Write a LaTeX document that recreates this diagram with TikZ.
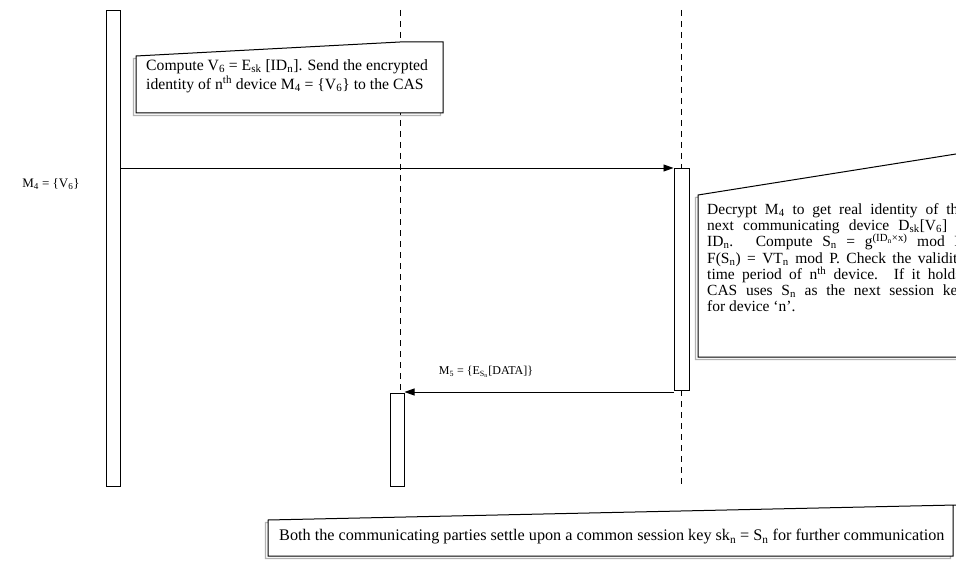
\documentclass[tikz,border=0pt]{standalone}
\usepackage{fontspec}
\setmainfont{Liberation Serif}
\usepackage{tikz}
\usetikzlibrary{arrows.meta,calc}

\tikzset{
	bar/.style={draw, line width=1pt, fill=white, minimum width=14pt, inner sep=0pt},
	lifeline/.style={line width=0.9pt, dash pattern=on 6pt off 5pt},
	msg/.style={line width=0.9pt, -{Triangle[length=10pt,width=7pt]}},
	notebox/.style={draw, line width=1pt, fill=white, preaction={draw=gray!60, line width=1.2pt, transform canvas={shift={(-2.5pt,-2.5pt)}}}},
	notetext/.style={inner sep=0pt, font=\fontsize{15.5}{16.3}\selectfont},
	msglabel/.style={inner sep=0pt, font=\fontsize{12}{14}\selectfont}
}

\begin{document}
\begin{tikzpicture}[x=1pt,y=-1pt]
	\useasboundingbox (0,0) rectangle (956,567);
	\clip (0,0) rectangle (956,567);
	% lifelines
	\draw[lifeline] (400,10) -- (400,393);
	\draw[lifeline] (681,10) -- (681,168);
	\draw[lifeline] (681,390) -- (681,486);
	\node[bar, minimum height=476pt, anchor=north] (user) at (113,10) {};
	\node[bar, minimum height=222pt, anchor=north, minimum width=15pt] (cas) at (681.5,168) {};
	\node[bar, minimum height=93pt, anchor=north] (dev) at (397,393) {};

	% first note
	\draw[notebox] (136,56) -- (400,42) -- (443,42) -- (443,113) -- (136,113) -- cycle;
	\node[notetext, anchor=north west, align=left, font=\fontsize{15.7}{19}\selectfont] (note1) at (146,59) {Compute V\textsubscript{6} = E\textsubscript{sk} [ID\textsubscript{n}]. Send the encrypted\\identity of n\textsuperscript{th} device M\textsubscript{4} = \{V\textsubscript{6}\} to the CAS};

	% M4
	\coordinate (m4) at (0,168);
	\draw[msg] (user.east |- m4) -- (cas.west |- m4);
	\node[msglabel, font=\fontsize{13}{15}\selectfont] (m4lbl) at (51,184) {M\textsubscript{4} = \{V\textsubscript{6}\}};

	% second note
	\draw[notebox] (698,195) -- (1000,147) -- (1000,357) -- (698,357) -- cycle;
	\node[notetext, anchor=north west, text width=258pt, align=justify] (note2) at (707,203) {Decrypt M\textsubscript{4} to get real identity of the\linebreak next communicating device D\textsubscript{sk}[V\textsubscript{6}] =\linebreak ID\textsubscript{n}. Compute S\textsubscript{n} = g\textsuperscript{(ID\textsubscript{n}×x)} mod P,\linebreak F(S\textsubscript{n}) = VT\textsubscript{n} mod P. Check the validity\linebreak time period of n\textsuperscript{th} device. If it holds,\linebreak CAS uses S\textsubscript{n} as the next session key\linebreak for device `n'.};

	% M5
	\coordinate (m5) at (0,392);
	\draw[msg] (cas.west |- m5) -- (dev.east |- m5);
	\node[msglabel] (m5lbl) at (486,372) {M\textsubscript{5} = \{E\textsubscript{S\textsubscript{n}}[DATA]\}};

	% final note
	\draw[notebox] (268,520) -- (956,505) -- (953,505) -- (953,556) -- (268,556) -- cycle;
	\node[notetext, anchor=west, font=\fontsize{16.2}{18}\selectfont] (note3) at (279,537) {Both the communicating parties settle upon a common session key sk\textsubscript{n} = S\textsubscript{n} for further communication};
\end{tikzpicture}
\end{document}
